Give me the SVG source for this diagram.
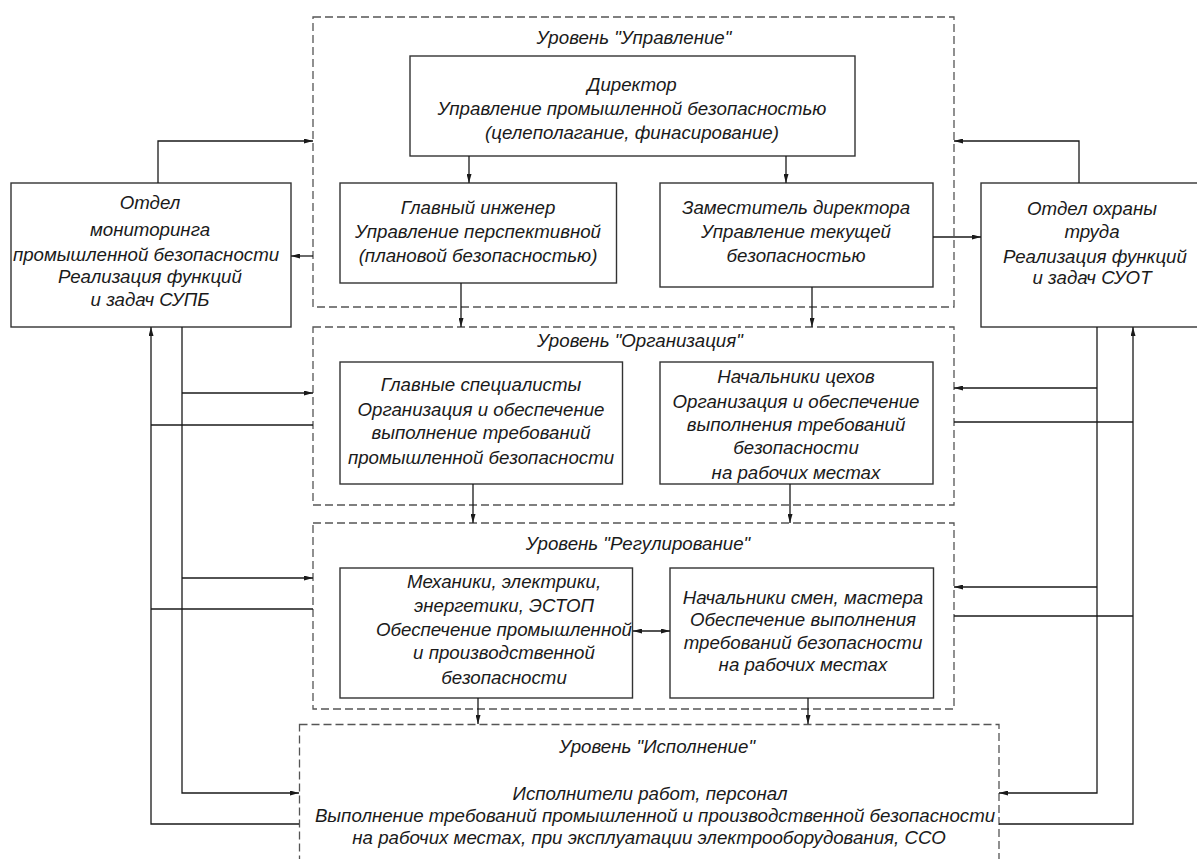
<svg xmlns="http://www.w3.org/2000/svg" width="1197" height="859" viewBox="0 0 1197 859">
<style>
.bg{fill:#ffffff}
.lvl{fill:none;stroke:#555555;stroke-width:1.3;stroke-dasharray:8 4}
.box{fill:#ffffff;stroke:#333333;stroke-width:1.4}
.t{font-family:"Liberation Sans",Arial,sans-serif;font-style:italic;font-size:18.7px;fill:#1a1a1a;text-anchor:middle}
.c{fill:none;stroke:#1a1a1a;stroke-width:1.3}
.a{marker-end:url(#arr)}
.d{marker-end:url(#arr);marker-start:url(#arr)}
</style>
<defs>
<marker id="arr" markerUnits="userSpaceOnUse" markerWidth="9" markerHeight="5" refX="9" refY="2.5" orient="auto-start-reverse">
<path d="M0,0 L9,2.5 L0,5 Z" fill="#1a1a1a"/>
</marker>
</defs>
<rect class="bg" x="0" y="0" width="1197" height="859"/>

<g id="level-upravlenie">
<rect class="lvl" x="313" y="17" width="641" height="290"/>
<text class="t" x="634" y="44">Уровень "Управление"</text>
</g>
<g id="level-organizaciya">
<rect class="lvl" x="313" y="327" width="641" height="178"/>
<text class="t" x="640" y="347">Уровень "Организация"</text>
</g>
<g id="level-regulirovanie">
<rect class="lvl" x="313" y="523" width="641" height="186"/>
<text class="t" x="638" y="550">Уровень "Регулирование"</text>
</g>
<g id="level-ispolnenie">
<rect class="lvl" x="299.5" y="724.5" width="699.5" height="150"/>
<text class="t" x="657" y="753">Уровень "Исполнение"</text>
<text class="t" x="650" y="800">Исполнители работ, персонал</text>
<text class="t" x="655" y="822">Выполнение требований промышленной и производственной безопасности</text>
<text class="t" x="649" y="844">на рабочих местах, при эксплуатации электрооборудования, ССО</text>
</g>

<g id="direktor">
<rect class="box" x="410" y="56" width="445" height="100"/>
<text class="t" x="632" y="91">Директор</text>
<text class="t" x="632" y="115">Управление промышленной безопасностью</text>
<text class="t" x="632" y="139">(целеполагание, финасирование)</text>
</g>
<g id="glavnyi-inzhener">
<rect class="box" x="340" y="183" width="276.5" height="100"/>
<text class="t" x="478" y="214">Главный инженер</text>
<text class="t" x="478" y="238">Управление перспективной</text>
<text class="t" x="478" y="262">(плановой безопасностью)</text>
</g>
<g id="zamestitel">
<rect class="box" x="660" y="183" width="273" height="104"/>
<text class="t" x="796" y="214">Заместитель директора</text>
<text class="t" x="796" y="238">Управление текущей</text>
<text class="t" x="796" y="262">безопасностью</text>
</g>
<g id="otdel-monitoringa">
<rect class="box" x="11" y="183" width="280" height="144"/>
<text class="t" x="150" y="209">Отдел</text>
<text class="t" x="150" y="236">мониторинга</text>
<text class="t" x="146" y="261">промышленной безопасности</text>
<text class="t" x="150" y="283">Реализация функций</text>
<text class="t" x="150" y="306">и задач СУПБ</text>
</g>
<g id="otdel-ohrany-truda">
<rect class="box" x="981" y="183" width="230" height="144"/>
<text class="t" x="1092" y="215">Отдел охраны</text>
<text class="t" x="1092" y="238">труда</text>
<text class="t" x="1095" y="263">Реализация функций</text>
<text class="t" x="1092" y="284">и задач СУОТ</text>
</g>
<g id="glavnye-specialisty">
<rect class="box" x="340" y="362" width="282.5" height="122"/>
<text class="t" x="481" y="391">Главные специалисты</text>
<text class="t" x="481" y="416">Организация и обеспечение</text>
<text class="t" x="481" y="439">выполнение требований</text>
<text class="t" x="481" y="464">промышленной безопасности</text>
</g>
<g id="nachalniki-cehov">
<rect class="box" x="660" y="362" width="273" height="122"/>
<text class="t" x="796" y="383">Начальники цехов</text>
<text class="t" x="796" y="408">Организация и обеспечение</text>
<text class="t" x="796" y="431">выполнения требований</text>
<text class="t" x="796" y="454">безопасности</text>
<text class="t" x="796" y="479">на рабочих местах</text>
</g>
<g id="mehaniki">
<rect class="box" x="340" y="568" width="292.5" height="130"/>
<text class="t" x="504" y="588">Механики, электрики,</text>
<text class="t" x="504" y="612">энергетики, ЭСТОП</text>
<text class="t" x="504" y="636">Обеспечение промышленной</text>
<text class="t" x="504" y="659">и производственной</text>
<text class="t" x="504" y="684">безопасности</text>
</g>
<g id="nachalniki-smen">
<rect class="box" x="670" y="568" width="263.5" height="130"/>
<text class="t" x="803" y="604">Начальники смен, мастера</text>
<text class="t" x="803" y="626">Обеспечение выполнения</text>
<text class="t" x="803" y="649">требований безопасности</text>
<text class="t" x="803" y="671">на рабочих местах</text>
</g>

<g id="connectors">
<line class="c a" x1="469" y1="156" x2="469" y2="183"/>
<line class="c a" x1="786" y1="156" x2="786" y2="183"/>
<line class="c a" x1="461" y1="283" x2="461" y2="327"/>
<line class="c a" x1="812" y1="287" x2="812" y2="327"/>
<line class="c a" x1="473" y1="484" x2="473" y2="523"/>
<line class="c a" x1="790" y1="484" x2="790" y2="523"/>
<line class="c a" x1="478" y1="698" x2="478" y2="724"/>
<line class="c a" x1="808" y1="698" x2="808" y2="724"/>
<line class="c d" x1="633" y1="631" x2="670" y2="631"/>

<polyline class="c a" points="158,183 158,141 313,141"/>
<line class="c a" x1="313" y1="256" x2="291" y2="256"/>
<polyline class="c a" points="1079,183 1079,141 954,141"/>
<line class="c a" x1="933" y1="237" x2="981" y2="237"/>

<polyline class="c a" points="182,327 182,793 299,793"/>
<line class="c a" x1="182" y1="393" x2="313" y2="393"/>
<line class="c a" x1="182" y1="578" x2="313" y2="578"/>
<polyline class="c a" points="299,824 151,824 151,327"/>
<line class="c" x1="313" y1="425" x2="151" y2="425"/>
<line class="c" x1="313" y1="609" x2="151" y2="609"/>

<polyline class="c a" points="1097,327 1097,793 999,793"/>
<line class="c a" x1="1097" y1="388" x2="954" y2="388"/>
<line class="c a" x1="1097" y1="587" x2="954" y2="587"/>
<polyline class="c a" points="999,824 1133,824 1133,327"/>
<line class="c" x1="954" y1="422" x2="1133" y2="422"/>
<line class="c" x1="954" y1="616" x2="1133" y2="616"/>
</g>
</svg>
